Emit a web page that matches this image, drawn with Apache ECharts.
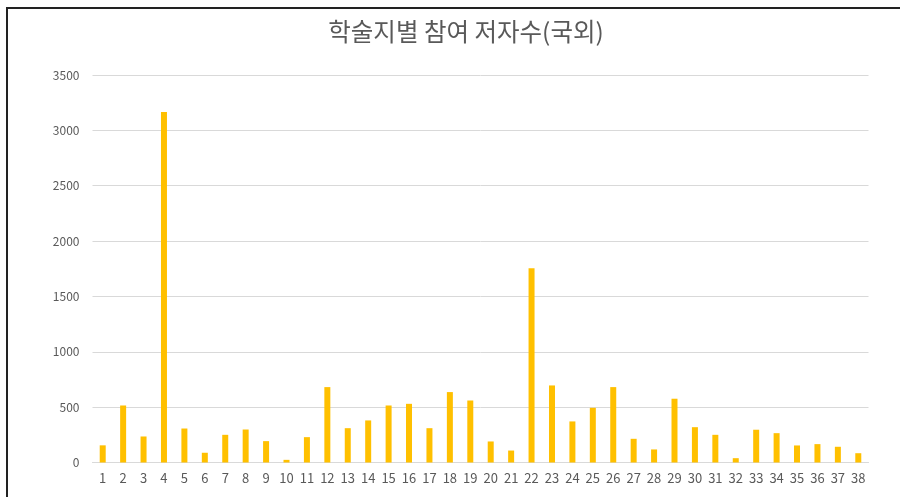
<!DOCTYPE html>
<html><head><meta charset="utf-8">
<script src="https://cdn.jsdelivr.net/npm/echarts@6/dist/echarts.min.js"></script>
<style>
html,body{margin:0;padding:0;background:#fff;}
#frame{position:absolute;left:6px;top:7px;width:894px;height:490px;border-left:2px solid #222;border-top:2px solid #222;box-sizing:border-box;}
#c{position:absolute;left:0;top:0;width:900px;height:497px;}
</style></head>
<body>
<div id="frame"></div>
<div id="c"></div>
<script>
const titleText = '학술지별 참여 저자수(국외)';
const categories = ['1','2','3','4','5','6','7','8','9','10','11','12','13','14','15','16','17','18','19','20','21','22','23','24','25','26','27','28','29','30','31','32','33','34','35','36','37','38'];
const authors = [155,515,235,3165,307,88,250,298,193,24,229,681,310,380,515,530,310,636,560,190,108,1755,696,371,494,681,214,118,576,319,250,39,296,265,154,166,142,84];
const yTicks = [0,500,1000,1500,2000,2500,3000,3500];

const chart = echarts.init(document.getElementById('c'), null, {renderer:'canvas'});
const font = '"Noto Sans CJK KR","Noto Sans",sans-serif';
chart.setOption({
  animation:false,
  backgroundColor:'transparent',
  title:{text:titleText,left:461,textAlign:'center',top:14,textStyle:{fontFamily:font,fontSize:24.5,fontWeight:'normal',color:'#595959'}},
  grid:{left:92.5,right:31.5,top:75,bottom:34.5,containLabel:false},
  xAxis:{type:'category',data:categories,
    axisLine:{lineStyle:{color:'#d9d9d9',width:1}},axisTick:{show:false},
    axisLabel:{color:'#595959',fontFamily:font,fontSize:13,margin:9,interval:0}},
  yAxis:{type:'value',min:yTicks[0],max:yTicks[yTicks.length-1],interval:500,
    axisLine:{show:false},axisTick:{show:false},
    splitLine:{lineStyle:{color:'#d9d9d9',width:1}},
    axisLabel:{color:'#595959',fontFamily:font,fontSize:12,margin:13,formatter:v=>String(v)}},
  series:[{type:'bar',data:authors,barWidth:6,itemStyle:{color:'#FFC000'}}]
});
</script>
</body></html>
